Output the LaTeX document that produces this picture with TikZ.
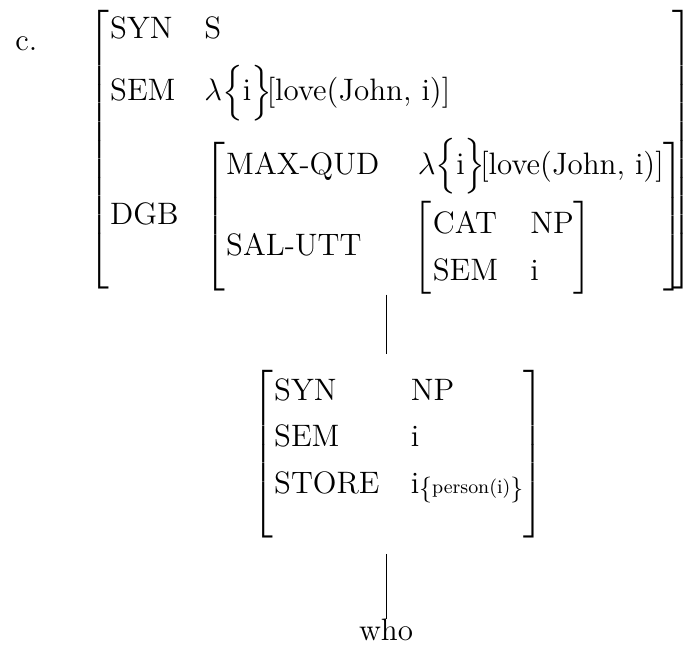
\documentclass[tikz,border=0pt]{standalone}
\usepackage{amsmath}
\usepackage{tikz}
\renewcommand{\arraystretch}{1.2}
\newcommand{\lamval}{$\lambda\Big\{\mathrm{i}\Big\}\mkern-3mu$[love(John, i)]}

\begin{document}
\begin{tikzpicture}[x=0.4645pt, y=-0.4645pt, avm/.style={inner sep=0pt, font=\Large}, line/.style={thin}]
\useasboundingbox (0,0) rectangle (687,644);
\node[avm, anchor=west] (ex) at (15,44) {c.};
% the top feature structure
\node[avm, anchor=west] (s) at (88,150) {$\left[\begin{tabular}{@{\hspace{0.5pt}}l@{\hspace{12pt}}l@{\hspace{-5.5pt}}}
SYN & S\\[6pt]
SEM & \lamval\\[11pt]
DGB & $\left[\begin{tabular}{@{\hspace{0.5pt}}l@{\hspace{18pt}}l@{}}
  MAX-QUD & \lamval\\[6pt]
  SAL-UTT & \hspace{-2pt}$\left[\begin{tabular}{@{\hspace{0.5pt}}l@{\hspace{15pt}}l@{}}
    CAT & NP\\
    SEM & i
    \end{tabular}\right]$
  \end{tabular}\right]$
\end{tabular}\right]$};
% the daughter
\node[avm, anchor=west] (np) at (252,454) {$\left[\begin{tabular}{@{\hspace{0.5pt}}l@{\hspace{14.5pt}}l@{}}
SYN & NP\\
SEM & i\\
STORE & i\raisebox{-1.7pt}{\large$\{$}{\small person(i)}\raisebox{-1.7pt}{\large$\}$}\rule[-22pt]{0pt}{22pt}
\end{tabular}\right]$};
\node[avm, anchor=north] (who) at (386,619) {who};

\draw[line] (s.south -| who.north) -- ([yshift=6pt]np.north -| who.north);
\draw[line] ([yshift=-6pt]np.south -| who.north) -- (who.north);
\end{tikzpicture}
\end{document}
